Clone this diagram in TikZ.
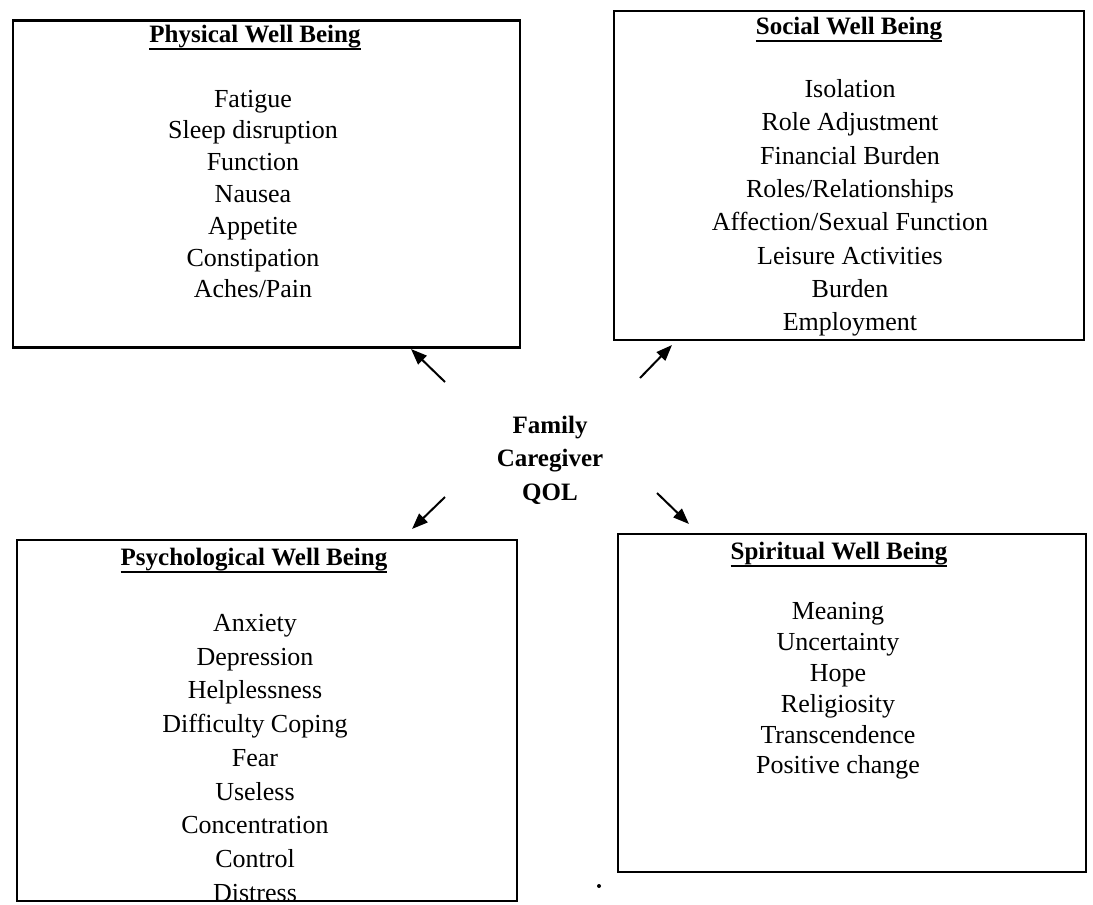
\documentclass[tikz,border=0pt]{standalone}
\usepackage{fontspec}
\setmainfont{Liberation Serif}
\usetikzlibrary{arrows.meta}
\newcommand\myul[1]{\leavevmode\vtop{\hbox{#1}\kern0.3pt\hrule height 1.7pt}}
\begin{document}
\begin{tikzpicture}[x=1pt,y=-1pt,
  box/.style={draw, line width=2.4pt, inner sep=0pt},
  title/.style={font=\fontsize{25}{30}\selectfont\bfseries, inner sep=0pt, anchor=base},
  items/.style={font=\fontsize{26}{#1}\selectfont, align=center, inner sep=0pt},
  centre/.style={font=\fontsize{25}{33.5}\selectfont\bfseries, align=center, inner sep=0pt},
  arr/.style={line width=2pt, -{Triangle[length=16pt,width=12pt]}}]
\useasboundingbox (0,0) rectangle (1093,905);
% boxes
\node[box, minimum width=507pt, minimum height=327pt] (phys) at (266.5,184) {};
\node[box, minimum width=470pt, minimum height=329pt] (soc) at (849,175.5) {};
\node[box, minimum width=500pt, minimum height=361pt] (psy) at (267,720.5) {};
\node[box, minimum width=468pt, minimum height=338pt] (spi) at (852,703) {};
% titles
\node[title] (physT) at (255,42) {\myul{Physical Well Being}};
\node[title] (socT) at (849,34) {\myul{Social Well Being}};
\node[title] (psyT) at (254,565) {\myul{Psychological Well Being}};
\node[title] (spiT) at (839,559) {\myul{Spiritual Well Being}};
% item lists
\node[items=31.8] (physL) at (253,194) {Fatigue\\Sleep disruption\\Function\\Nausea\\Appetite\\Constipation\\Aches/Pain};
\node[items=33.3] (socL) at (850,208) {Isolation\\Role Adjustment\\Financial Burden\\Roles/Relationships\\Affection/Sexual Function\\Leisure Activities\\Burden\\Employment};
\node[items=33.75] (psyL) at (255,758) {Anxiety\\Depression\\Helplessness\\Difficulty Coping\\Fear\\Useless\\Concentration\\Control\\Distress};
\node[items=30.8] (spiL) at (838,691) {Meaning\\Uncertainty\\Hope\\Religiosity\\Transcendence\\Positive change};
% centre
\node[centre] (qol) at (550,460) {Family\\Caregiver\\QOL};
% arrow ends
\coordinate (a1s) at (445,382);
\coordinate (a1e) at (411,349);
\coordinate (a2s) at (640,378);
\coordinate (a2e) at (672,345);
\coordinate (a3s) at (445,497);
\coordinate (a3e) at (412,529);
\coordinate (a4s) at (657,493);
\coordinate (a4e) at (689,524);
\draw[arr] (a1s) -- (a1e);
\draw[arr] (a2s) -- (a2e);
\draw[arr] (a3s) -- (a3e);
\draw[arr] (a4s) -- (a4e);
% stray dot
\fill (599,886) circle (2pt);
\end{tikzpicture}
\end{document}
